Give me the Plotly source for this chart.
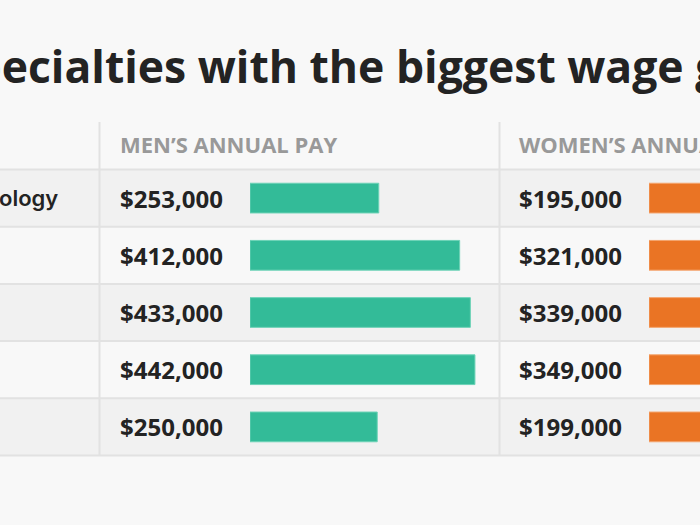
import plotly.graph_objects as go

# ---------------- data ----------------
title_text = "Specialties with the biggest wage gap"
col_headers = ["MEN\u2019S ANNUAL PAY", "WOMEN\u2019S ANNUAL PAY"]
row_labels = ["ology", "", "", "", ""]
men_pay = [253000, 412000, 433000, 442000, 250000]
women_pay = [195000, 321000, 339000, 349000, 199000]

# ---------------- geometry (pixels) ----------------
W, H = 700, 525
n = len(men_pay)
rows = list(range(n))
table_top = 122
header_bottom = 169.5
table_bottom = 455.5
row_h = (table_bottom - header_bottom) / n
col_lines = [99.5, 499.5]
val_x = [119, 518]
bar_left = [250, 649]


def px(p):
    return p / W


def py(p):
    return 1 - p / H


GREEN = "#33bb98"
ORANGE = "#ea7424"
BG = "#f8f8f8"
STRIPE = "#f1f1f1"
LINE = "#e2e2e2"
DARK = "#232323"
GRAY = "#999999"
FONT = "Open Sans, sans-serif"

fig = go.Figure()
fig.add_trace(go.Bar(
    x=men_pay, y=rows, orientation="h", xaxis="x", yaxis="y", width=0.52,
    marker=dict(color=GREEN, line=dict(color="#6cd2b6", width=1)),
    hoverinfo="skip", showlegend=False,
))
fig.add_trace(go.Bar(
    x=women_pay, y=rows, orientation="h", xaxis="x2", yaxis="y", width=0.52,
    marker=dict(color=ORANGE, line=dict(color="#f4a46c", width=1)),
    hoverinfo="skip", showlegend=False,
))

shapes = []
# row stripes
for i in rows:
    if i % 2 == 0:
        shapes.append(dict(type="rect", xref="paper", yref="paper", layer="below",
                           x0=0, x1=1,
                           y0=py(header_bottom + (i + 1) * row_h),
                           y1=py(header_bottom + i * row_h),
                           fillcolor=STRIPE, line=dict(width=0)))
# horizontal lines
for i in range(n + 1):
    yy = py(header_bottom + i * row_h)
    shapes.append(dict(type="line", xref="paper", yref="paper", layer="below",
                       x0=0, x1=1, y0=yy, y1=yy, line=dict(color=LINE, width=2)))
# vertical lines
for cx in col_lines:
    shapes.append(dict(type="line", xref="paper", yref="paper", layer="below",
                       x0=px(cx), x1=px(cx), y0=py(table_top), y1=py(table_bottom),
                       line=dict(color=LINE, width=2)))

annotations = []
annotations.append(dict(text=title_text, xref="paper", yref="paper",
                        x=px(-53), y=py(65.5), xanchor="left", yanchor="middle",
                        showarrow=False,
                        font=dict(family=FONT, size=44.5, color=DARK, weight="bold")))
for hx, htxt in zip(val_x, col_headers):
    annotations.append(dict(text=htxt, xref="paper", yref="paper",
                            x=px(hx - 1), y=py(144), xanchor="left", yanchor="middle",
                            showarrow=False,
                            font=dict(family=FONT, size=22, color=GRAY, weight="bold")))
for i in rows:
    if row_labels[i]:
        annotations.append(dict(text=row_labels[i], xref="paper", yref="y",
                                x=px(60), y=i, xanchor="right", yanchor="middle",
                                showarrow=False,
                                font=dict(family="Inter, Open Sans, sans-serif", size=22,
                                          color=DARK, weight=600)))
    for vx, series in zip(val_x, (men_pay, women_pay)):
        annotations.append(dict(text=f"${series[i]:,}", xref="paper", yref="y",
                                x=px(vx - 1), y=i, xanchor="left", yanchor="middle",
                                showarrow=False,
                                font=dict(family=FONT, size=24, color=DARK, weight="bold")))

hidden = dict(showgrid=False, zeroline=False, showticklabels=False, showline=False,
              ticks="", fixedrange=True)
fig.update_layout(
    width=W, height=H, margin=dict(l=0, r=0, t=0, b=0),
    paper_bgcolor=BG, plot_bgcolor="rgba(0,0,0,0)",
    xaxis=dict(domain=[px(bar_left[0]), px(bar_left[0] + 229)], range=[0, 450000],
               anchor="y", **hidden),
    xaxis2=dict(domain=[px(bar_left[1]), 1], range=[0, 100000], anchor="y", **hidden),
    yaxis=dict(domain=[py(table_bottom), py(header_bottom)], range=[n - 0.5, -0.5],
               anchor="x", **hidden),
    shapes=shapes, annotations=annotations, showlegend=False,
    font=dict(family=FONT),
)
fig.write_html(
    "out.html",
    config={"displayModeBar": False},
    post_script="document.body.style.margin='0';document.body.style.overflow='hidden';",
)
